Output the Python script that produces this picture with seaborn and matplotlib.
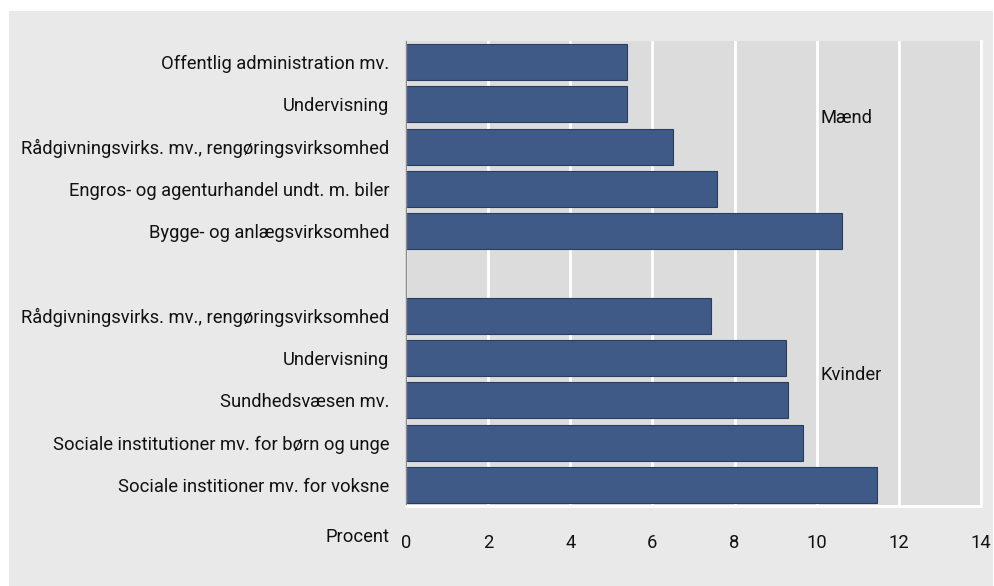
import pandas as pd
import matplotlib.pyplot as plt
import seaborn as sns

# Data (percent)
keys = ["m1", "m2", "m3", "m4", "m5", "gap", "k1", "k2", "k3", "k4", "k5"]
labels = [
    "Offentlig administration mv.",
    "Undervisning",
    "Rådgivningsvirks. mv., rengøringsvirksomhed",
    "Engros- og agenturhandel undt. m. biler",
    "Bygge- og anlægsvirksomhed",
    "",
    "Rådgivningsvirks. mv., rengøringsvirksomhed",
    "Undervisning",
    "Sundhedsvæsen mv.",
    "Sociale institutioner mv. for børn og unge",
    "Sociale institioner mv. for voksne",
]
values = [5.37, 5.39, 6.5, 7.57, 10.62, None, 7.43, 9.25, 9.3, 9.67, 11.47]
xticks = [0, 2, 4, 6, 8, 10, 12, 14]

sns.set_style("white")
plt.rcParams['font.family'] = ['Roboto', 'DejaVu Sans']
plt.rcParams['text.color'] = '#111111'
plt.rcParams['xtick.color'] = '#111111'
plt.rcParams['ytick.color'] = '#111111'
FS = 13.2

df = pd.DataFrame({"key": keys, "value": values}).dropna()

fig = plt.figure(figsize=(9.95, 5.86), dpi=100)
fig.patch.set_facecolor("white")
# outer light grey panel
bg = fig.add_axes([9 / 995, 0, 1 - 11 / 995, 1 - 11 / 586], zorder=-1)
bg.set_facecolor("#e9e9e9")
bg.set_xticks([])
bg.set_yticks([])
for s in bg.spines.values():
    s.set_visible(False)

ax = fig.add_axes([406 / 995, 1 - 506 / 586, 575 / 995, 465 / 586])
ax.set_facecolor("#dcdcdc")

sns.barplot(data=df, x="value", y="key", order=keys, orient="h",
            color="#3f5a87", saturation=1, width=0.85,
            edgecolor="#2b3d5e", linewidth=0.8, ax=ax)

ax.set_xlim(0, 14)
ax.set_ylim(10.5, -0.5)
ax.set_xticks(xticks)
ax.set_xticklabels([str(t) for t in xticks], fontsize=FS)
ax.set_yticks(range(len(keys)))
ax.set_yticklabels(labels, fontsize=FS)
ax.tick_params(axis="x", length=0, pad=20)
ax.tick_params(axis="y", length=0, pad=12)
ax.set_xlabel("")
ax.set_ylabel("")
ax.grid(axis="x", color="white", linewidth=2)
ax.set_axisbelow(True)
ax.spines["top"].set_visible(False)
ax.spines["left"].set_color("#8a8a8a")
ax.spines["left"].set_linewidth(1)
ax.spines["bottom"].set_color("white")
ax.spines["bottom"].set_linewidth(2)
ax.spines["right"].set_color("white")
ax.spines["right"].set_linewidth(2)

ax.text(10.1, 1.32, "Mænd", fontsize=FS, va="center", ha="left")
ax.text(10.1, 7.41, "Kvinder", fontsize=FS, va="center", ha="left")
fig.text(390 / 995, 1 - 537 / 586, "Procent", fontsize=FS, ha="right", va="center")

plt.savefig("out.png", dpi=100, facecolor=fig.get_facecolor())
